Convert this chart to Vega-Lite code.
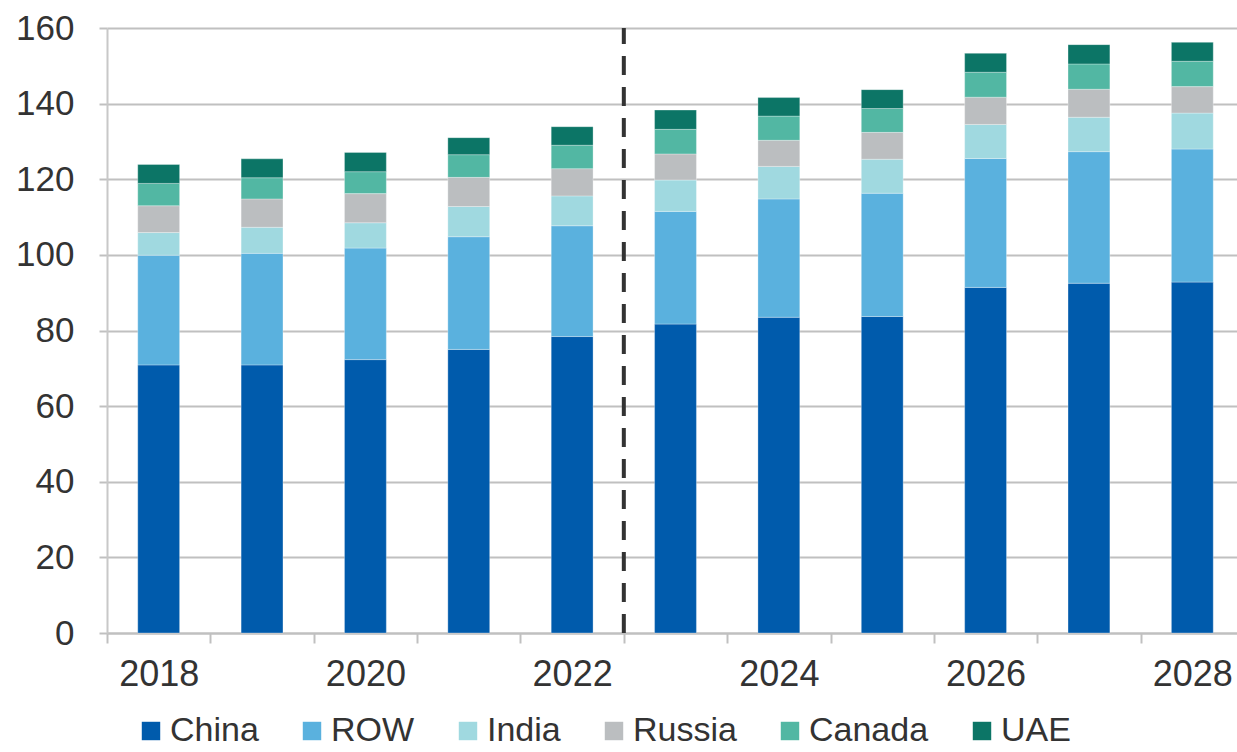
{
  "$schema": "https://vega.github.io/schema/vega-lite/v6.json",
  "width": 1137,
  "height": 605,
  "autosize": "none",
  "padding": {"left": 107, "top": 28, "right": 0, "bottom": 119},
  "background": "white",
  "config": {
    "view": {"stroke": null},
    "font": "Liberation Sans",
    "axis": {"labelFont": "Liberation Sans", "labelColor": "#333333"}
  },
  "datasets": {
    "bars": [
      {"year": "2018", "series": "China", "value": 70.9},
      {"year": "2018", "series": "ROW", "value": 29.0},
      {"year": "2018", "series": "India", "value": 6.0},
      {"year": "2018", "series": "Russia", "value": 7.1},
      {"year": "2018", "series": "Canada", "value": 5.9},
      {"year": "2018", "series": "UAE", "value": 5.0},
      {"year": "2019", "series": "China", "value": 70.9},
      {"year": "2019", "series": "ROW", "value": 29.5},
      {"year": "2019", "series": "India", "value": 6.9},
      {"year": "2019", "series": "Russia", "value": 7.5},
      {"year": "2019", "series": "Canada", "value": 5.6},
      {"year": "2019", "series": "UAE", "value": 5.0},
      {"year": "2020", "series": "China", "value": 72.3},
      {"year": "2020", "series": "ROW", "value": 29.5},
      {"year": "2020", "series": "India", "value": 6.7},
      {"year": "2020", "series": "Russia", "value": 7.7},
      {"year": "2020", "series": "Canada", "value": 5.8},
      {"year": "2020", "series": "UAE", "value": 5.1},
      {"year": "2021", "series": "China", "value": 75.0},
      {"year": "2021", "series": "ROW", "value": 29.8},
      {"year": "2021", "series": "India", "value": 8.0},
      {"year": "2021", "series": "Russia", "value": 7.7},
      {"year": "2021", "series": "Canada", "value": 6.0},
      {"year": "2021", "series": "UAE", "value": 4.5},
      {"year": "2022", "series": "China", "value": 78.4},
      {"year": "2022", "series": "ROW", "value": 29.3},
      {"year": "2022", "series": "India", "value": 7.9},
      {"year": "2022", "series": "Russia", "value": 7.2},
      {"year": "2022", "series": "Canada", "value": 6.2},
      {"year": "2022", "series": "UAE", "value": 4.9},
      {"year": "2023", "series": "China", "value": 81.7},
      {"year": "2023", "series": "ROW", "value": 29.8},
      {"year": "2023", "series": "India", "value": 8.3},
      {"year": "2023", "series": "Russia", "value": 6.9},
      {"year": "2023", "series": "Canada", "value": 6.5},
      {"year": "2023", "series": "UAE", "value": 5.1},
      {"year": "2024", "series": "China", "value": 83.5},
      {"year": "2024", "series": "ROW", "value": 31.3},
      {"year": "2024", "series": "India", "value": 8.6},
      {"year": "2024", "series": "Russia", "value": 6.9},
      {"year": "2024", "series": "Canada", "value": 6.4},
      {"year": "2024", "series": "UAE", "value": 4.9},
      {"year": "2025", "series": "China", "value": 83.7},
      {"year": "2025", "series": "ROW", "value": 32.6},
      {"year": "2025", "series": "India", "value": 9.0},
      {"year": "2025", "series": "Russia", "value": 7.1},
      {"year": "2025", "series": "Canada", "value": 6.3},
      {"year": "2025", "series": "UAE", "value": 5.0},
      {"year": "2026", "series": "China", "value": 91.4},
      {"year": "2026", "series": "ROW", "value": 34.1},
      {"year": "2026", "series": "India", "value": 9.0},
      {"year": "2026", "series": "Russia", "value": 7.2},
      {"year": "2026", "series": "Canada", "value": 6.6},
      {"year": "2026", "series": "UAE", "value": 5.0},
      {"year": "2027", "series": "China", "value": 92.5},
      {"year": "2027", "series": "ROW", "value": 34.8},
      {"year": "2027", "series": "India", "value": 9.1},
      {"year": "2027", "series": "Russia", "value": 7.4},
      {"year": "2027", "series": "Canada", "value": 6.7},
      {"year": "2027", "series": "UAE", "value": 5.1},
      {"year": "2028", "series": "China", "value": 92.8},
      {"year": "2028", "series": "ROW", "value": 35.2},
      {"year": "2028", "series": "India", "value": 9.5},
      {"year": "2028", "series": "Russia", "value": 7.0},
      {"year": "2028", "series": "Canada", "value": 6.7},
      {"year": "2028", "series": "UAE", "value": 5.0}
    ],
    "divider": [{"year": "2022"}]
  },
  "layer": [
    {
      "data": {"name": "bars"},
      "transform": [
        {"calculate": "indexof(['China','ROW','India','Russia','Canada','UAE'], datum.series)", "as": "rank"}
      ],
      "mark": {"type": "bar", "width": {"band": 0.405}, "stroke": "white", "strokeWidth": 0.6, "strokeOpacity": 0.5},
      "encoding": {
        "x": {
          "field": "year", "type": "ordinal",
          "scale": {"paddingInner": 0, "paddingOuter": 0},
          "axis": {
            "title": null,
            "labelAngle": 0,
            "labelFontSize": 36,
            "labelPadding": 14,
            "labelExpr": "parseInt(datum.label) % 2 == 0 ? datum.label : ''",
            "tickBand": "extent",
            "tickSize": 10,
            "tickColor": "#c0c0c0",
            "tickWidth": 2,
            "domainColor": "#c0c0c0",
            "domainWidth": 2,
            "grid": false
          }
        },
        "y": {
          "field": "value", "type": "quantitative", "stack": "zero",
          "scale": {"domain": [0, 160], "nice": false},
          "axis": {
            "title": null,
            "values": [0, 20, 40, 60, 80, 100, 120, 140, 160],
            "labelFontSize": 35,
            "labelPadding": 25,
            "tickSize": 8,
            "tickColor": "#c0c0c0",
            "tickWidth": 2,
            "domain": true,
            "domainColor": "#c8c8c8",
            "domainWidth": 2,
            "grid": true,
            "gridColor": "#c0c0c0",
            "gridWidth": 2
          }
        },
        "color": {
          "field": "series", "type": "nominal",
          "scale": {
            "domain": ["China", "ROW", "India", "Russia", "Canada", "UAE"],
            "range": ["#005bac", "#5ab1de", "#a0d9e0", "#bbbec0", "#52b7a3", "#0c7566"]
          },
          "legend": {
            "title": null,
            "orient": "none",
            "legendX": 27,
            "legendY": 686,
            "direction": "horizontal",
            "columns": 6,
            "columnPadding": 36,
            "symbolType": "square",
            "symbolSize": 340,
            "symbolStrokeWidth": 0,
            "symbolOpacity": 1,
            "labelFontSize": 34,
            "labelColor": "#333333",
            "labelFont": "Liberation Sans",
            "labelOffset": 2,
            "labelLimit": 300
          }
        },
        "order": {"field": "rank", "type": "quantitative"}
      }
    },
    {
      "data": {"name": "divider"},
      "mark": {"type": "rule", "color": "#333333", "strokeWidth": 4, "strokeDash": [19, 12]},
      "encoding": {
        "x": {"field": "year", "type": "ordinal", "bandPosition": 1},
        "y": {"datum": 0},
        "y2": {"datum": 160}
      }
    }
  ]
}
